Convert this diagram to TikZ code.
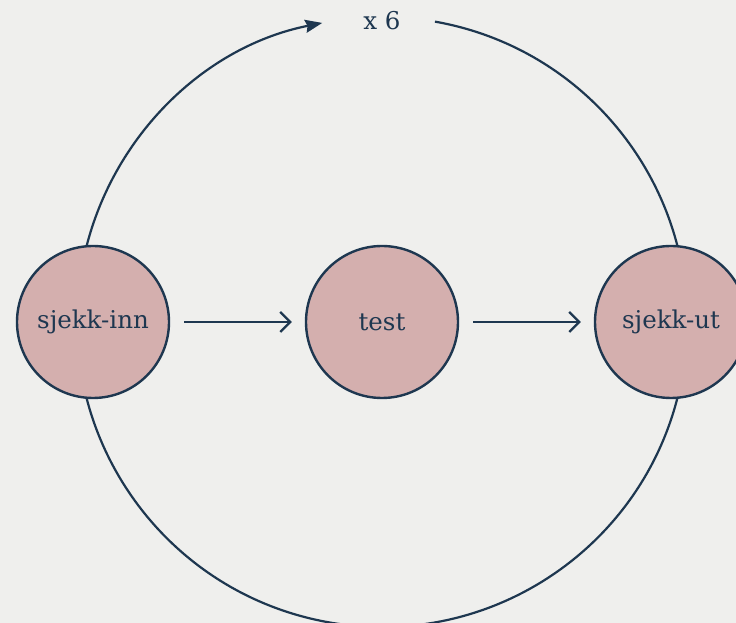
\documentclass[tikz,border=0pt]{standalone}
\usepackage{fontspec}
\setmainfont{DejaVu Serif}
\usetikzlibrary{positioning,arrows.meta}
\definecolor{bg}{HTML}{EFEFED}
\definecolor{navy}{HTML}{1E3750}
\definecolor{rose}{HTML}{D4AFAE}

\begin{document}
\begin{tikzpicture}[x=1pt,y=1pt,node distance=289pt,on grid,>={Straight Barb[length=10pt,width=20pt]},
		state/.style={circle,draw=navy,fill=rose,line width=2.4pt,minimum size=152pt,inner sep=0pt,text=navy,font=\fontsize{24.5}{28}\selectfont},
		ring/.style={circle,minimum size=610pt,inner sep=0pt,outer sep=0pt}]
		\fill[bg] (0,0) rectangle (736,623);
		\useasboundingbox (0,0) rectangle (736,623);
		
		\node[ring]   (loop)   at (382,301)     {};
		\coordinate   (gapend) at (loop.80);
		\draw[navy,line width=2.2pt,-{Stealth[length=17pt,width=13pt,inset=2pt]}] 
		(gapend) arc[start angle=80,end angle=-258.7,radius=305pt];
		
		\node[state]  (inn)    at (93,301)      {sjekk-inn};
		\node[state]  (test)   [right=of inn]   {test};
		\node[state]  (ut)     [right=of test]  {sjekk-ut};
		\node[text=navy,font=\fontsize{24.5}{28}\selectfont] (times) at (382,602) {x 6};
		
		\path[->,draw=navy,line width=2.2pt,shorten >=13pt,shorten <=14pt]
		(inn) edge (test)
		(test) edge (ut);
		\end{tikzpicture}
\end{document}
